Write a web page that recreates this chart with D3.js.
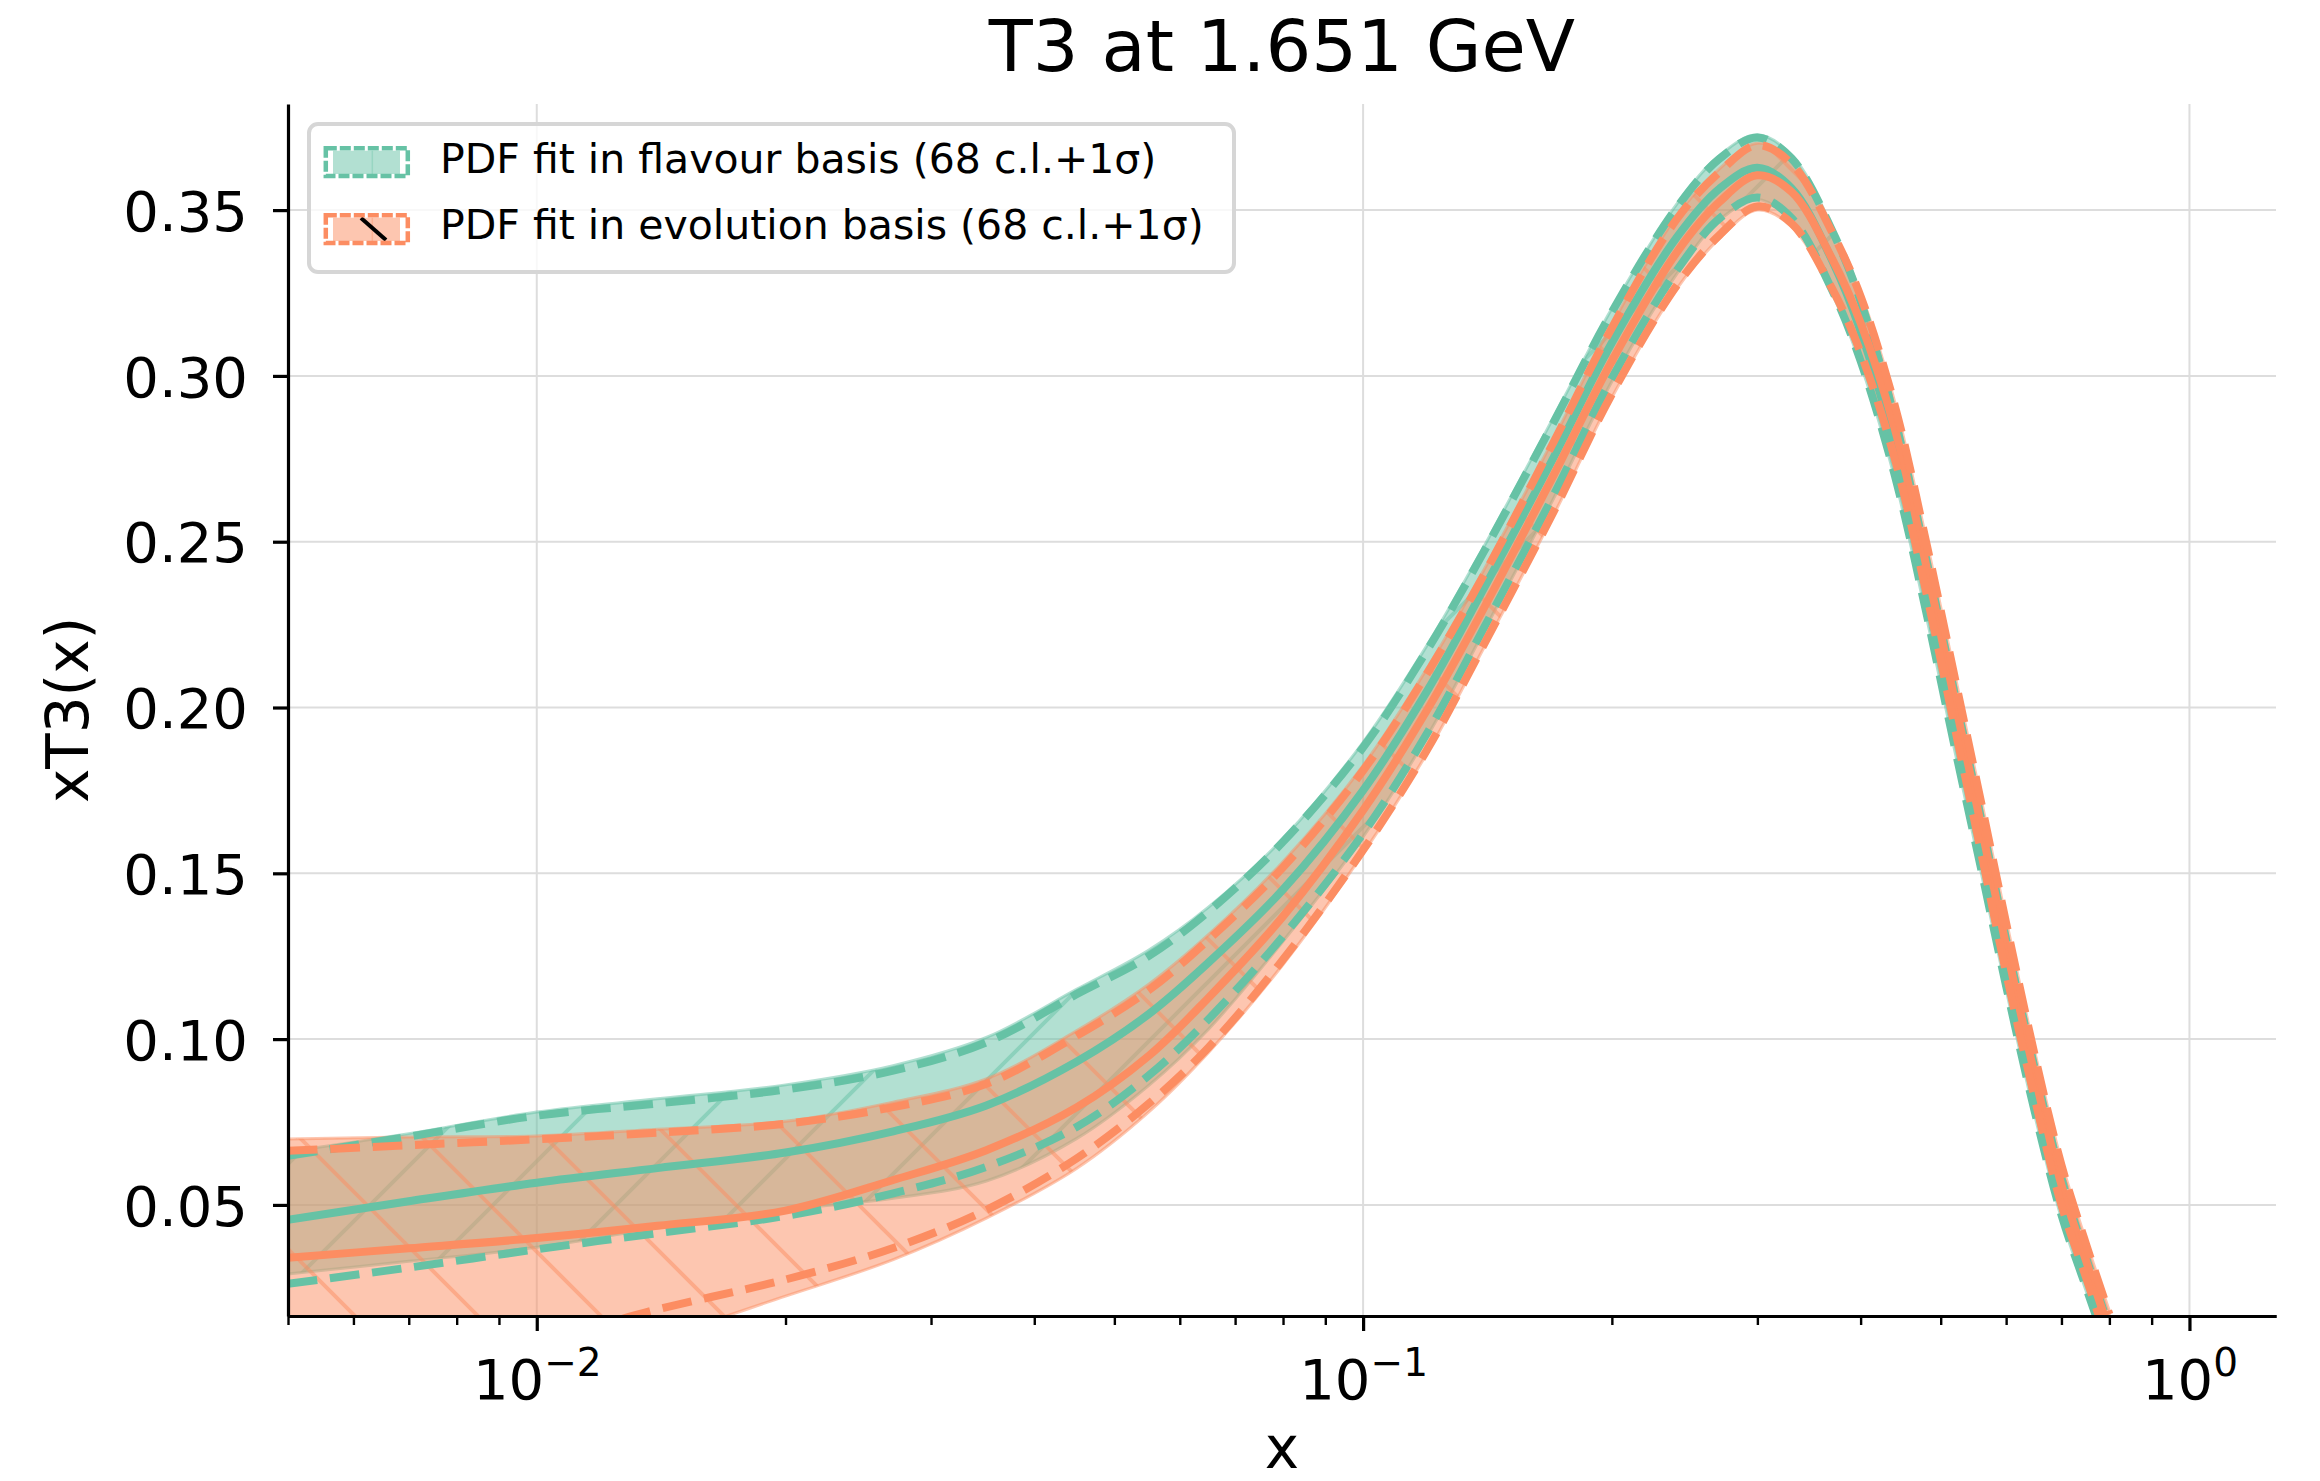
<!DOCTYPE html>
<html lang="en">

<head>
    <meta charset="UTF-8">
    <script src="https://d3js.org/d3.v7.min.js"></script>
    <title>T3 at 1.651 GeV</title>
    <style>
        body { margin: 0; background: #ffffff; }
        text { font-family: "DejaVu Sans", sans-serif; }
    </style>
</head>

<body>
    <svg id="chart" width="2320" height="1481"></svg>
    <script>

        const xGrid = [0.005, 0.007, 0.01, 0.014, 0.02, 0.027, 0.035, 0.045, 0.055, 0.065, 0.08, 0.1, 0.12, 0.14, 0.17, 0.2,
            0.24, 0.27, 0.3, 0.33, 0.37, 0.4, 0.44, 0.48, 0.52, 0.56, 0.6, 0.65, 0.7, 0.75, 0.8];

        // flavour basis fit
        const flavCentral = [0.0455, 0.0511, 0.0567, 0.0611, 0.0658, 0.0722, 0.0800, 0.0932, 0.1075, 0.1231, 0.1451, 0.1750, 0.2057, 0.2359, 0.2754, 0.3100,
            0.3420, 0.3565, 0.3628, 0.3566, 0.3345, 0.3135, 0.2784, 0.2369, 0.1958, 0.1580, 0.1227, 0.0844, 0.0520, 0.0292, 0.0085];
        const flavUpper = [0.0648, 0.0706, 0.0769, 0.0806, 0.0848, 0.0905, 0.0990, 0.1135, 0.1250, 0.1385, 0.1595, 0.1880, 0.2180, 0.2470, 0.2860, 0.3193,
            0.3510, 0.3655, 0.3719, 0.3656, 0.3435, 0.3225, 0.2870, 0.2450, 0.2040, 0.1660, 0.1300, 0.0910, 0.0580, 0.0340, 0.0130];
        const flavLower = [0.0262, 0.0311, 0.0366, 0.0415, 0.0467, 0.0535, 0.0615, 0.0735, 0.0890, 0.1060, 0.1310, 0.1620, 0.1930, 0.2240, 0.2640, 0.2993,
            0.3320, 0.3475, 0.3538, 0.3476, 0.3255, 0.3045, 0.2700, 0.2290, 0.1880, 0.1510, 0.1160, 0.0780, 0.0470, 0.0250, 0.0050];
        const flavBandTop = [0.0660, 0.0715, 0.0780, 0.0820, 0.0862, 0.0920, 0.1005, 0.1150, 0.1268, 0.1398, 0.1605, 0.1895, 0.2195, 0.2485, 0.2875, 0.3203,
            0.3520, 0.3665, 0.3727, 0.3666, 0.3445, 0.3235, 0.2880, 0.2460, 0.2050, 0.1670, 0.1310, 0.0920, 0.0590, 0.0350, 0.0140];
        const flavBandBottom = [0.0292, 0.0330, 0.0372, 0.0430, 0.0485, 0.0520, 0.0572, 0.0700, 0.0860, 0.1030, 0.1295, 0.1610, 0.1920, 0.2230, 0.2630, 0.2983,
            0.3310, 0.3470, 0.3532, 0.3466, 0.3245, 0.3035, 0.2690, 0.2280, 0.1870, 0.1500, 0.1150, 0.0770, 0.0460, 0.0240, 0.0040];

        // evolution basis fit
        const evolCentral = [0.0341, 0.0369, 0.0400, 0.0437, 0.0483, 0.0575, 0.0665, 0.0794, 0.0949, 0.1125, 0.1370, 0.1690, 0.2000, 0.2300, 0.2700, 0.3045,
            0.3375, 0.3525, 0.3605, 0.3555, 0.3350, 0.3160, 0.2840, 0.2430, 0.2020, 0.1640, 0.1280, 0.0890, 0.0560, 0.0330, 0.0120];
        const evolUpper = [0.0663, 0.0680, 0.0698, 0.0718, 0.0745, 0.0795, 0.0865, 0.1010, 0.1147, 0.1300, 0.1518, 0.1810, 0.2110, 0.2400, 0.2800, 0.3145,
            0.3475, 0.3615, 0.3696, 0.3640, 0.3430, 0.3240, 0.2910, 0.2500, 0.2090, 0.1710, 0.1350, 0.0950, 0.0620, 0.0380, 0.0170];
        const evolLower = [-0.0020, 0.0040, 0.0090, 0.0185, 0.0275, 0.0370, 0.0485, 0.0640, 0.0805, 0.0975, 0.1240, 0.1570, 0.1880, 0.2190, 0.2590, 0.2945,
            0.3275, 0.3425, 0.3511, 0.3460, 0.3260, 0.3070, 0.2750, 0.2350, 0.1940, 0.1560, 0.1200, 0.0820, 0.0500, 0.0280, 0.0070];
        const evolBandTop = [0.0699, 0.0705, 0.0708, 0.0728, 0.0752, 0.0810, 0.0880, 0.1025, 0.1165, 0.1315, 0.1535, 0.1825, 0.2125, 0.2415, 0.2810, 0.3155,
            0.3485, 0.3625, 0.3702, 0.3645, 0.3440, 0.3250, 0.2920, 0.2510, 0.2100, 0.1720, 0.1360, 0.0960, 0.0630, 0.0390, 0.0180];
        const evolBandBottom = [-0.0100, -0.0050, 0.0020, 0.0100, 0.0225, 0.0335, 0.0460, 0.0610, 0.0780, 0.0960, 0.1225, 0.1560, 0.1870, 0.2180, 0.2580, 0.2935,
            0.3265, 0.3415, 0.3500, 0.3450, 0.3250, 0.3060, 0.2740, 0.2340, 0.1930, 0.1550, 0.1190, 0.0810, 0.0490, 0.0270, 0.0060];

        // ticks
        const yTicks = [0.05, 0.10, 0.15, 0.20, 0.25, 0.30, 0.35];
        const xMajorTicks = [0.01, 0.1, 1];
        const xMajorExponents = ["\u22122", "\u22121", "0"];
        const xMinorTicks = [0.005, 0.006, 0.007, 0.008, 0.009, 0.02, 0.03, 0.04, 0.05, 0.06, 0.07, 0.08, 0.09,
            0.2, 0.3, 0.4, 0.5, 0.6, 0.7, 0.8, 0.9];

        const legendLabels = ["PDF fit in flavour basis (68 c.l.+1\u03c3)", "PDF fit in evolution basis (68 c.l.+1\u03c3)"];

        const teal = "#66c2a5", orange = "#fc8d62";
        const pLeft = 288, pRight = 2276, pTop = 104, pBottom = 1316;

        const svg = d3.select("#chart");
        const x = d3.scaleLog().domain([0.005, 1.2727]).range([pLeft, pRight]);
        const y = d3.scaleLinear().domain([0.0165, 0.382]).range([pBottom, pTop]);
        const smooth = d3.curveCatmullRom.alpha(0.5);

        const defs = svg.append("defs");
        defs.append("clipPath").attr("id", "plotClip")
            .append("rect").attr("x", pLeft).attr("y", pTop).attr("width", pRight - pLeft).attr("height", pBottom - pTop);

        function addHatch(id, color, dir, offset) {
            const p = defs.append("pattern")
                .attr("id", id)
                .attr("patternUnits", "userSpaceOnUse")
                .attr("x", offset).attr("y", 0)
                .attr("width", 123).attr("height", 123);
            const d = dir === "back"
                ? "M-10,-10L133,133M113,-10L133,10M-10,113L10,133"
                : "M-10,133L133,-10M-10,10L10,-10M113,133L133,113";
            p.append("path").attr("d", d)
                .attr("fill", "none")
                .attr("stroke", color)
                .attr("stroke-opacity", 0.5)
                .attr("stroke-width", 4);
        }
        addHatch("hatchFlav", teal, "fwd", 99);
        addHatch("hatchEvol", orange, "back", 23);

        // grid
        const grid = svg.append("g");
        grid.selectAll("line.h").data(yTicks).enter().append("line")
            .attr("x1", pLeft).attr("x2", pRight)
            .attr("y1", d => y(d)).attr("y2", d => y(d))
            .attr("stroke", "#dddddd").attr("stroke-width", 2);
        grid.selectAll("line.v").data(xMajorTicks).enter().append("line")
            .attr("x1", d => x(d)).attr("x2", d => x(d))
            .attr("y1", pTop).attr("y2", pBottom)
            .attr("stroke", "#dddddd").attr("stroke-width", 2);

        const plot = svg.append("g").attr("clip-path", "url(#plotClip)");

        function bandPath(upper, lower) {
            return d3.area()
                .x((d, i) => x(xGrid[i]))
                .y0((d, i) => y(lower[i]))
                .y1((d, i) => y(upper[i]))
                .curve(smooth)(xGrid);
        }
        function linePath(values) {
            return d3.line()
                .x((d, i) => x(xGrid[i]))
                .y(d => y(d))
                .curve(smooth)(values);
        }

        function drawBand(upper, lower, color, hatchId) {
            const d = bandPath(upper, lower);
            plot.append("path").attr("d", d).attr("fill", color).attr("fill-opacity", 0.5);
            plot.append("path").attr("d", d).attr("fill", "url(#" + hatchId + ")");
            plot.append("path").attr("d", d).attr("fill", "none")
                .attr("stroke", color).attr("stroke-opacity", 0.5).attr("stroke-width", 3);
        }
        drawBand(flavBandTop, flavBandBottom, teal, "hatchFlav");
        drawBand(evolBandTop, evolBandBottom, orange, "hatchEvol");

        function drawLines(central, upper, lower, color) {
            plot.append("path").attr("d", linePath(central))
                .attr("fill", "none").attr("stroke", color).attr("stroke-width", 8);
            [upper, lower].forEach(vals => {
                plot.append("path").attr("d", linePath(vals))
                    .attr("fill", "none").attr("stroke", color).attr("stroke-width", 8)
                    .attr("stroke-dasharray", "29.6,12.8");
            });
        }
        drawLines(flavCentral, flavUpper, flavLower, teal);
        drawLines(evolCentral, evolUpper, evolLower, orange);

        // axes
        const yAxisG = svg.append("g").attr("transform", "translate(" + pLeft + ",0)")
            .call(d3.axisLeft(y).tickValues(yTicks).tickFormat(d3.format(".2f"))
                .tickSize(15).tickPadding(25).tickSizeOuter(0));
        yAxisG.attr("font-size", 56).attr("font-family", "DejaVu Sans");
        yAxisG.selectAll("text").attr("dy", "0.36em").attr("fill", "#000");
        yAxisG.selectAll("line").attr("stroke-width", 3.2);
        yAxisG.select(".domain").attr("stroke-width", 3.2);

        const xMinorG = svg.append("g").attr("transform", "translate(0," + pBottom + ")")
            .call(d3.axisBottom(x).tickValues(xMinorTicks).tickFormat("").tickSize(9).tickSizeOuter(0));
        xMinorG.selectAll("line").attr("stroke-width", 2.4);
        xMinorG.select(".domain").attr("stroke-width", 3.2);

        const xMajorG = svg.append("g").attr("transform", "translate(0," + pBottom + ")")
            .call(d3.axisBottom(x).tickValues(xMajorTicks).tickFormat("").tickSize(15).tickSizeOuter(0));
        xMajorG.selectAll("line").attr("stroke-width", 3.2);
        xMajorG.select(".domain").attr("stroke-width", 3.2);
        xMajorG.selectAll(".tick").each(function (d, i) {
            const t = d3.select(this).append("text")
                .attr("y", 83).attr("text-anchor", "middle")
                .attr("font-size", 56).attr("font-family", "DejaVu Sans").attr("fill", "#000");
            t.append("tspan").text("10");
            t.append("tspan").attr("font-size", 39).attr("dy", -23).text(xMajorExponents[i]);
        });

        // title and labels
        svg.append("text").attr("x", (pLeft + pRight) / 2).attr("y", 71)
            .attr("text-anchor", "middle").attr("font-size", 72).text("T3 at 1.651 GeV");
        svg.append("text").attr("x", (pLeft + pRight) / 2).attr("y", 1468)
            .attr("text-anchor", "middle").attr("font-size", 58).text("x");
        svg.append("text").attr("transform", "translate(88," + (pTop + pBottom) / 2 + ") rotate(-90)")
            .attr("text-anchor", "middle").attr("font-size", 58).text("xT3(x)");

        // legend
        const legend = svg.append("g");
        legend.append("rect")
            .attr("x", 309).attr("y", 124).attr("width", 925).attr("height", 148).attr("rx", 9)
            .attr("fill", "#ffffff").attr("fill-opacity", 0.8)
            .attr("stroke", "#d6d6d6").attr("stroke-width", 4);

        const legendColors = [teal, orange];
        legendLabels.forEach((label, i) => {
            const oy = i * 67;
            const c = legendColors[i];
            legend.append("rect").attr("x", 333).attr("y", 150.7 + oy).attr("width", 67).attr("height", 23.3)
                .attr("fill", c).attr("fill-opacity", 0.5);
            legend.append("line").attr("x1", 372.3).attr("x2", 372.3).attr("y1", 150.7 + oy).attr("y2", 174 + oy)
                .attr("stroke", c).attr("stroke-opacity", 0.35).attr("stroke-width", 1.5);
            if (i === 1) {
                legend.append("line").attr("x1", 361).attr("y1", 218).attr("x2", 386).attr("y2", 240)
                    .attr("stroke", "#000").attr("stroke-width", 4);
            }
            legend.append("rect").attr("x", 325.8).attr("y", 148.3 + oy).attr("width", 82).attr("height", 27.7)
                .attr("fill", "none").attr("stroke", c).attr("stroke-width", 4.5)
                .attr("stroke-dasharray", "11,3");
            legend.append("text").attr("x", 440).attr("y", 172.5 + i * 66.5)
                .attr("font-size", 41).text(label);
        });

    </script>
</body>

</html>
